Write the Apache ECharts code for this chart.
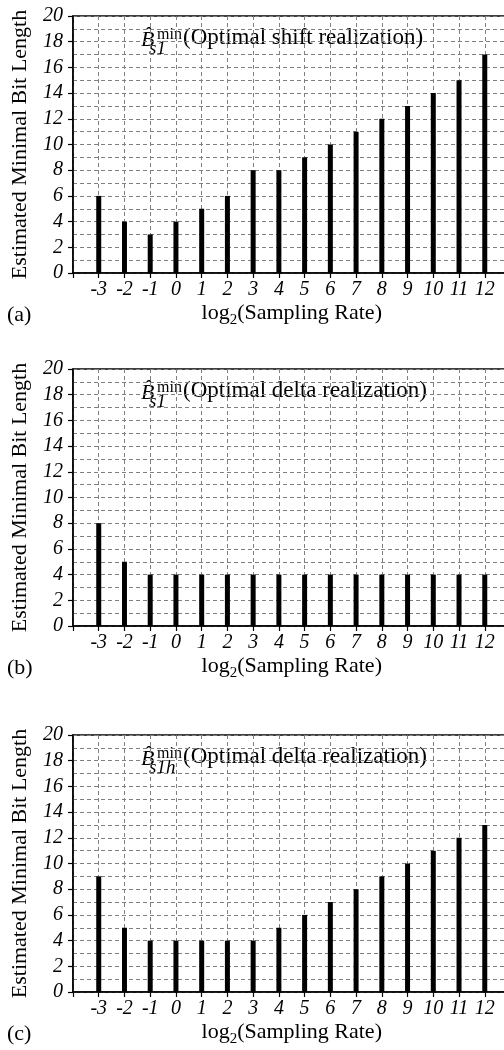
<!DOCTYPE html>
<html><head><meta charset="utf-8">
<script src="https://cdn.jsdelivr.net/npm/echarts@6/dist/echarts.min.js"></script>
<style>html,body{margin:0;padding:0;background:#fff}#c{width:504px;height:1050px}</style>
</head><body><div id="c"></div>
<script>
const categories = [-3,-2,-1,0,1,2,3,4,5,6,7,8,9,10,11,12];
const valuesA = [6,4,3,4,5,6,8,8,9,10,11,12,13,14,15,17];
const valuesB = [8,5,4,4,4,4,4,4,4,4,4,4,4,4,4,4];
const valuesC = [9,5,4,4,4,4,4,5,6,7,8,9,10,11,12,13];
const yTickLabels = [0,2,4,6,8,10,12,14,16,18,20];
const panelLabels = ['(a)','(b)','(c)'];
const titleSubs = ['s1','s1','s1h'];
const titleTexts = ['(Optimal shift realization)','(Optimal delta realization)','(Optimal delta realization)'];
const yName = 'Estimated Minimal Bit Length';
const allValues = [valuesA, valuesB, valuesC];

const FONT = 'Liberation Serif';
const tops = [16, 369, 735];
const H = 257;
const LEFT = 73;
const W = 437.5;

const chart = echarts.init(document.getElementById('c'), null, {renderer:'canvas'});
const grids = [], xAxes = [], yAxes = [], series = [], graphics = [];
tops.forEach((top, i) => {
  grids.push({left: LEFT, top: top, width: W, height: H, show: true, borderColor: '#000', borderWidth: 1.5,
    backgroundColor: 'transparent', containLabel: false, outerBoundsMode: 'none'});
  xAxes.push({
    type: 'value', gridIndex: i, min: -4, max: 13, interval: 1,
    axisLine: {show: true, onZero: false, lineStyle: {color: '#000', width: 1.5}},
    axisTick: {show: true, length: 5, lineStyle: {color: '#000', width: 1.2}},
    axisLabel: {
      margin: 7, color: '#000', fontFamily: FONT, fontStyle: 'italic', fontSize: 20,
      formatter: v => categories.indexOf(v) >= 0 ? String(v) : ''
    },
    splitLine: {show: true, lineStyle: {color: '#808080', type: [4, 3], width: 1}},
    name: '{a|log}{s|2}{a|(Sampling Rate)}',
    nameLocation: 'middle', nameGap: 25,
    nameTextStyle: {
      rich: {
        a: {fontFamily: FONT, fontSize: 22, color: '#000', lineHeight: 30, verticalAlign: 'middle'},
        s: {fontFamily: FONT, fontSize: 15, color: '#000', lineHeight: 30, verticalAlign: 'bottom'}
      }
    }
  });
  yAxes.push({
    type: 'value', gridIndex: i, min: 0, max: 20, interval: 2,
    axisLine: {show: true, onZero: false, lineStyle: {color: '#000', width: 1.5}},
    axisTick: {show: true, length: 5, lineStyle: {color: '#000', width: 1.2}},
    minorTick: {show: false, splitNumber: 2},
    minorSplitLine: {show: true, lineStyle: {color: '#808080', type: [4, 3], width: 1}},
    axisLabel: {
      margin: 10, color: '#000', fontFamily: FONT, fontStyle: 'italic', fontSize: 20,
      formatter: v => yTickLabels.indexOf(v) >= 0 ? String(v) : ''
    },
    splitLine: {show: true, lineStyle: {color: '#808080', type: [4, 3], width: 1}},
    name: yName, nameLocation: 'middle', nameRotate: 90, nameGap: 42,
    nameTextStyle: {fontFamily: FONT, fontSize: 22, color: '#000'}
  });
  series.push({
    type: 'bar', xAxisIndex: i, yAxisIndex: i, barWidth: 5,
    itemStyle: {color: '#000'},
    data: categories.map((c, k) => [c, allValues[i][k]])
  });
  graphics.push(
    {type: 'text', left: 141, top: top + 13, style: {text: 'B\u0302', font: 'italic 22px "Liberation Serif"', fill: '#000'}},
    {type: 'text', left: 149, top: top + 23, style: {text: titleSubs[i], font: 'italic 19px "Liberation Serif"', fill: '#000'}},
    {type: 'text', left: 157, top: top + 11, style: {text: 'min', font: '16px "Liberation Serif"', fill: '#000'}},
    {type: 'text', left: 183, top: top + 10, style: {text: titleTexts[i], font: '23px "Liberation Serif"', fill: '#000'}},
    {type: 'text', left: 7, top: top + H + 31, style: {text: panelLabels[i], font: '22px "Liberation Serif"', fill: '#000'}}
  );
});

chart.setOption({
  animation: false,
  backgroundColor: '#fff',
  grid: grids, xAxis: xAxes, yAxis: yAxes, series: series,
  graphic: graphics
});
</script></body></html>
